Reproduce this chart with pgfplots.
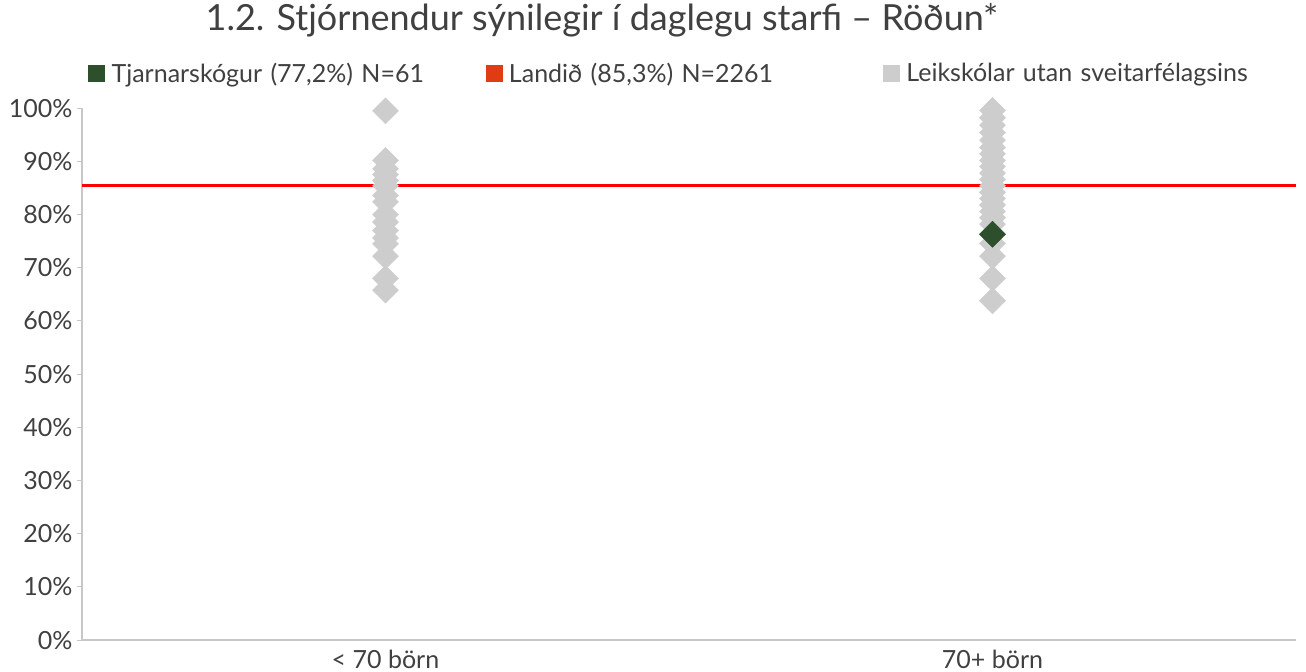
\documentclass[border=0pt]{standalone}
\usepackage{fontspec}
\setmainfont{Lato}
\usepackage{pgfplots}
\pgfplotsset{compat=1.18}
\definecolor{txt}{HTML}{404040}
\definecolor{axgray}{HTML}{C8C8C8}
\definecolor{dots}{HTML}{CDCDCD}
\definecolor{tjarn}{HTML}{2D4F2B}
\definecolor{landid}{HTML}{E03C14}

\begin{document}
\begin{tikzpicture}
\begin{axis}[
  scale only axis, width=1214pt, height=532pt,
  xmin=0.5, xmax=2.5, ymin=0, ymax=100,
  axis lines=left, axis line style={draw=axgray, line width=1.6pt, -},
  xtick={1,2}, xticklabels={{< 70 börn},{70+ börn}}, xtick style={draw=none},
  ytick={0,10,...,100}, yticklabel={\pgfmathprintnumber{\tick}\%},
  ytick style={draw=axgray, line width=1pt}, tick align=outside, major tick length=5pt,
  /pgf/number format/assume math mode=true,
  ticklabel style={font=\fontsize{25}{29}\selectfont, text=txt},
  yticklabel style={xshift=-1pt},
  xticklabel style={yshift=-1pt},
  title={1.2. Stjórnendur sýnilegir í daglegu starfi – Röðun*},
  title style={font=\fontsize{36}{42}\selectfont, text=txt, at={(axis description cs:0.5,1)}, anchor=center, xshift=-87pt, yshift=82pt},
  legend columns=3,
  legend style={at={(axis description cs:0,1)}, anchor=west, xshift=6pt, yshift=35pt,
    draw=none, fill=none, inner sep=0pt, font=\fontsize{25}{29}\selectfont, text=txt,
    /tikz/every odd column/.append style={column sep=5pt},
    /tikz/every even column/.append style={text width=372pt, inner sep=0pt}},
  legend cell align=left,
  clip=false,
]
\addlegendimage{legend image code/.code={\fill[tjarn] (0pt,-8pt) rectangle (16pt,8pt);}}
\addlegendentry{Tjarnarskógur (77,2\%) N=61}
\addlegendimage{legend image code/.code={\fill[landid] (0pt,-8pt) rectangle (16pt,8pt);}}
\addlegendentry{Landið (85,3\%) N=2261}
\addlegendimage{legend image code/.code={\fill[dots] (0pt,-8pt) rectangle (16pt,8pt);}}
\addlegendentry{Leikskólar utan sveitarfélagsins}

% landsmeðaltal
\addplot[red, line width=2.8pt, forget plot] coordinates {(0.5,85.4) (2.5,85.4)};

% aðrir leikskólar
\addplot[dots, only marks, mark=square*, mark size=9.2pt, mark options={rotate=45, fill=dots, draw=dots}, forget plot]
  coordinates {
  (1,99.5) (1,90.2) (1,88.6) (1,87.5) (1,86.4) (1,85.4) (1,83.6) (1,82.4)
  (1,80.0) (1,78.6) (1,77.0) (1,75.6) (1,74.5) (1,72.2) (1,68.0) (1,65.8)
  (2,99.6) (2,98.2) (2,96.8) (2,95.4) (2,94.0) (2,92.6) (2,91.4) (2,90.2)
  (2,89.0) (2,87.8) (2,86.6) (2,85.4) (2,84.2) (2,83.0) (2,81.8) (2,80.6)
  (2,79.4) (2,78.2) (2,74.6) (2,72.2) (2,68.0) (2,63.8)
  };

% Tjarnarskógur
\addplot[tjarn, only marks, mark=square*, mark size=9.2pt, mark options={rotate=45, fill=tjarn, draw=tjarn}, forget plot]
  coordinates {(2,76.3)};

\pgfresetboundingbox
\path[use as bounding box] (rel axis cs:0,0) ++(-82pt,-31pt) rectangle ++(1306pt,671pt);
\end{axis}
\end{tikzpicture}
\end{document}
